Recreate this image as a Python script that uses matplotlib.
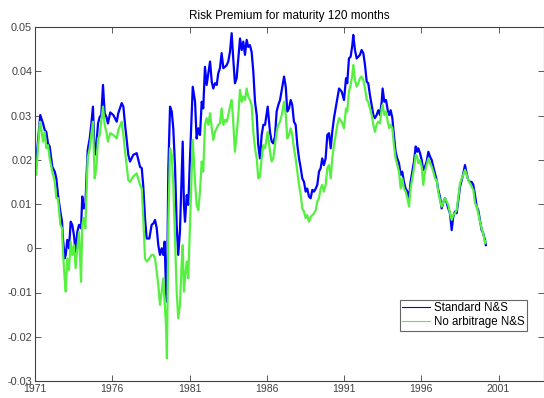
import matplotlib

matplotlib.use("Agg")

import matplotlib.pyplot as plt  # noqa: E402
from matplotlib.lines import Line2D  # noqa: E402

# sample dates (decimal years)
years = [
    1971.00, 1971.08, 1971.19, 1971.30, 1971.34, 1971.52, 1971.63, 1971.73, 1971.84, 1971.95,
    1972.12, 1972.28, 1972.38, 1972.49, 1972.64, 1972.75, 1972.81, 1972.92, 1972.99, 1973.09,
    1973.20, 1973.31, 1973.41, 1973.52, 1973.63, 1973.74, 1973.85, 1973.98, 1974.06, 1974.15,
    1974.26, 1974.32, 1974.41, 1974.54, 1974.64, 1974.75, 1974.86, 1974.97, 1975.08, 1975.19,
    1975.29, 1975.40, 1975.51, 1975.62, 1975.72, 1975.87, 1976.07, 1976.29, 1976.39, 1976.61,
    1976.72, 1976.83, 1977.04, 1977.15, 1977.36, 1977.58, 1977.80, 1977.91, 1978.01, 1978.12,
    1978.23, 1978.40, 1978.55, 1978.66, 1978.77, 1978.88, 1978.98, 1979.09, 1979.20, 1979.30,
    1979.39, 1979.48, 1979.54, 1979.63, 1979.74, 1979.85, 1979.95, 1980.06, 1980.17, 1980.27,
    1980.38, 1980.49, 1980.56, 1980.64, 1980.71, 1980.82, 1980.92, 1981.03, 1981.21, 1981.36,
    1981.46, 1981.57, 1981.68, 1981.79, 1981.89, 1982.00, 1982.11, 1982.22, 1982.33, 1982.44,
    1982.54, 1982.65, 1982.76, 1982.86, 1982.97, 1983.08, 1983.19, 1983.30, 1983.41, 1983.51,
    1983.62, 1983.73, 1983.83, 1983.94, 1984.05, 1984.16, 1984.27, 1984.38, 1984.48, 1984.59,
    1984.70, 1984.80, 1984.91, 1985.02, 1985.13, 1985.24, 1985.35, 1985.45, 1985.56, 1985.67,
    1985.78, 1985.89, 1986.06, 1986.21, 1986.32, 1986.42, 1986.53, 1986.64, 1986.75, 1986.86,
    1986.97, 1987.12, 1987.23, 1987.33, 1987.44, 1987.55, 1987.65, 1987.76, 1987.87, 1987.98,
    1988.09, 1988.20, 1988.30, 1988.41, 1988.52, 1988.62, 1988.73, 1988.84, 1988.95, 1989.06,
    1989.17, 1989.27, 1989.38, 1989.49, 1989.59, 1989.70, 1989.81, 1989.92, 1990.03, 1990.14,
    1990.24, 1990.35, 1990.46, 1990.57, 1990.68, 1990.85, 1991.00, 1991.13, 1991.21, 1991.32,
    1991.43, 1991.54, 1991.60, 1991.71, 1991.82, 1991.93, 1992.03, 1992.14, 1992.25, 1992.36,
    1992.47, 1992.57, 1992.68, 1992.79, 1992.90, 1993.00, 1993.11, 1993.22, 1993.33, 1993.44,
    1993.50, 1993.61, 1993.72, 1993.83, 1993.93, 1994.02, 1994.13, 1994.23, 1994.34, 1994.45,
    1994.56, 1994.67, 1994.77, 1994.88, 1994.99, 1995.10, 1995.21, 1995.31, 1995.42, 1995.53,
    1995.64, 1995.74, 1995.81, 1995.92, 1996.03, 1996.13, 1996.24, 1996.35, 1996.46, 1996.57,
    1996.68, 1996.78, 1996.89, 1997.00, 1997.10, 1997.21, 1997.32, 1997.43, 1997.54, 1997.65,
    1997.75, 1997.86, 1997.97, 1998.07, 1998.18, 1998.29, 1998.40, 1998.51, 1998.62, 1998.72,
    1998.83, 1998.94, 1999.04, 1999.15, 1999.26, 1999.37, 1999.48, 1999.59, 1999.69, 1999.80,
    1999.91, 2000.01, 2000.12, 2000.18,
]

standard_ns = [
    0.0203, 0.0196, 0.0241, 0.0286, 0.0301, 0.0282, 0.0267, 0.0263, 0.0237, 0.0230,
    0.0184, 0.0173, 0.0158, 0.0120, 0.0083, 0.0060, 0.0022, -0.0023, -0.0015, 0.0019,
    0.0000, 0.0060, 0.0053, 0.0030, -0.0008, 0.0037, 0.0053, 0.0045, 0.0117, 0.0090,
    0.0094, 0.0150, 0.0222, 0.0248, 0.0279, 0.0320, 0.0211, 0.0233, 0.0282, 0.0297,
    0.0301, 0.0369, 0.0305, 0.0297, 0.0282, 0.0307, 0.0301, 0.0286, 0.0305, 0.0328,
    0.0320, 0.0279, 0.0211, 0.0196, 0.0211, 0.0215, 0.0184, 0.0181, 0.0139, 0.0068,
    0.0022, 0.0022, 0.0053, 0.0056, 0.0064, 0.0045, 0.0007, -0.0015, 0.0000, -0.0015,
    0.0015, -0.0098, -0.0121, 0.0181, 0.0320, 0.0309, 0.0271, 0.0188, 0.0053, -0.0015,
    0.0037, 0.0158, 0.0241, 0.0098, 0.0060, 0.0120, 0.0098, 0.0203, 0.0365, 0.0331,
    0.0248, 0.0271, 0.0256, 0.0331, 0.0316, 0.0410, 0.0369, 0.0395, 0.0422, 0.0376,
    0.0361, 0.0373, 0.0369, 0.0395, 0.0407, 0.0441, 0.0407, 0.0410, 0.0414, 0.0422,
    0.0444, 0.0486, 0.0429, 0.0373, 0.0384, 0.0429, 0.0474, 0.0448, 0.0467, 0.0437,
    0.0471, 0.0455, 0.0459, 0.0444, 0.0399, 0.0331, 0.0301, 0.0233, 0.0203, 0.0256,
    0.0279, 0.0279, 0.0320, 0.0263, 0.0241, 0.0237, 0.0252, 0.0309, 0.0324, 0.0335,
    0.0358, 0.0388, 0.0365, 0.0309, 0.0316, 0.0335, 0.0324, 0.0286, 0.0279, 0.0233,
    0.0203, 0.0181, 0.0158, 0.0150, 0.0128, 0.0135, 0.0117, 0.0113, 0.0132, 0.0128,
    0.0135, 0.0143, 0.0173, 0.0181, 0.0203, 0.0188, 0.0203, 0.0256, 0.0260, 0.0226,
    0.0263, 0.0294, 0.0316, 0.0339, 0.0361, 0.0354, 0.0335, 0.0384, 0.0373, 0.0429,
    0.0433, 0.0459, 0.0482, 0.0448, 0.0429, 0.0433, 0.0437, 0.0448, 0.0441, 0.0414,
    0.0376, 0.0373, 0.0346, 0.0324, 0.0301, 0.0294, 0.0301, 0.0312, 0.0301, 0.0331,
    0.0361, 0.0331, 0.0335, 0.0312, 0.0301, 0.0312, 0.0294, 0.0256, 0.0218, 0.0203,
    0.0192, 0.0166, 0.0173, 0.0150, 0.0135, 0.0128, 0.0113, 0.0150, 0.0173, 0.0196,
    0.0230, 0.0218, 0.0226, 0.0215, 0.0199, 0.0177, 0.0184, 0.0196, 0.0218, 0.0207,
    0.0199, 0.0184, 0.0169, 0.0154, 0.0132, 0.0117, 0.0090, 0.0105, 0.0113, 0.0102,
    0.0090, 0.0079, 0.0041, 0.0071, 0.0083, 0.0079, 0.0109, 0.0139, 0.0154, 0.0169,
    0.0188, 0.0169, 0.0154, 0.0150, 0.0150, 0.0143, 0.0120, 0.0094, 0.0086, 0.0064,
    0.0041, 0.0034, 0.0019, 0.0007,
]

no_arbitrage_ns = [
    0.0188, 0.0166, 0.0226, 0.0279, 0.0286, 0.0241, 0.0263, 0.0226, 0.0233, 0.0203,
    0.0173, 0.0150, 0.0113, 0.0113, 0.0053, 0.0045, -0.0008, -0.0068, -0.0098, -0.0023,
    -0.0049, 0.0015, -0.0015, 0.0007, -0.0045, 0.0000, 0.0037, -0.0076, 0.0053, 0.0068,
    0.0045, 0.0113, 0.0203, 0.0226, 0.0256, 0.0286, 0.0158, 0.0181, 0.0248, 0.0256,
    0.0286, 0.0320, 0.0279, 0.0263, 0.0241, 0.0260, 0.0256, 0.0248, 0.0267, 0.0286,
    0.0256, 0.0218, 0.0154, 0.0150, 0.0162, 0.0169, 0.0143, 0.0135, 0.0068, -0.0023,
    -0.0030, -0.0023, -0.0015, -0.0015, -0.0023, -0.0053, -0.0083, -0.0128, -0.0098, -0.0068,
    -0.0121, -0.0174, -0.0249, 0.0053, 0.0226, 0.0211, 0.0143, 0.0022, -0.0098, -0.0158,
    -0.0128, -0.0038, 0.0007, -0.0098, -0.0068, -0.0030, -0.0068, 0.0053, 0.0245, 0.0150,
    0.0098, 0.0086, 0.0128, 0.0196, 0.0173, 0.0279, 0.0294, 0.0279, 0.0305, 0.0271,
    0.0245, 0.0263, 0.0271, 0.0279, 0.0282, 0.0316, 0.0279, 0.0290, 0.0286, 0.0301,
    0.0320, 0.0335, 0.0286, 0.0218, 0.0256, 0.0301, 0.0358, 0.0331, 0.0343, 0.0335,
    0.0361, 0.0343, 0.0335, 0.0324, 0.0263, 0.0226, 0.0203, 0.0158, 0.0162, 0.0203,
    0.0233, 0.0226, 0.0263, 0.0218, 0.0196, 0.0203, 0.0233, 0.0263, 0.0279, 0.0286,
    0.0301, 0.0331, 0.0301, 0.0248, 0.0256, 0.0271, 0.0256, 0.0226, 0.0203, 0.0173,
    0.0143, 0.0120, 0.0090, 0.0083, 0.0068, 0.0075, 0.0060, 0.0071, 0.0075, 0.0079,
    0.0086, 0.0105, 0.0113, 0.0135, 0.0143, 0.0128, 0.0143, 0.0181, 0.0188, 0.0158,
    0.0203, 0.0233, 0.0256, 0.0279, 0.0294, 0.0286, 0.0271, 0.0316, 0.0309, 0.0354,
    0.0369, 0.0392, 0.0414, 0.0380, 0.0365, 0.0373, 0.0384, 0.0388, 0.0380, 0.0361,
    0.0335, 0.0331, 0.0316, 0.0301, 0.0279, 0.0263, 0.0279, 0.0286, 0.0282, 0.0316,
    0.0324, 0.0301, 0.0309, 0.0286, 0.0271, 0.0279, 0.0271, 0.0233, 0.0203, 0.0188,
    0.0173, 0.0135, 0.0158, 0.0135, 0.0128, 0.0113, 0.0094, 0.0135, 0.0158, 0.0181,
    0.0211, 0.0207, 0.0192, 0.0199, 0.0184, 0.0143, 0.0173, 0.0188, 0.0203, 0.0192,
    0.0184, 0.0173, 0.0158, 0.0154, 0.0128, 0.0109, 0.0094, 0.0105, 0.0113, 0.0105,
    0.0098, 0.0079, 0.0064, 0.0075, 0.0079, 0.0086, 0.0117, 0.0147, 0.0158, 0.0166,
    0.0177, 0.0166, 0.0154, 0.0147, 0.0139, 0.0132, 0.0102, 0.0094, 0.0079, 0.0060,
    0.0045, 0.0034, 0.0011, 0.0015,
]

x_ticks = [1971, 1976, 1981, 1986, 1991, 1996, 2001]
y_ticks = [-0.03, -0.02, -0.01, 0, 0.01, 0.02, 0.03, 0.04, 0.05]
y_labels = ["-0.03", "-0.02", "-0.01", "0", "0.01", "0.02", "0.03", "0.04", "0.05"]

BLUE = "#0000ff"
GREEN = "#55f040"
AXIS_GREY = "#404040"

plt.rcParams["font.family"] = ["Liberation Sans", "DejaVu Sans"]

fig = plt.figure(figsize=(5.44, 3.98), dpi=100)
ax = fig.add_axes([35 / 544, 17 / 398, 508.5 / 544, 354 / 398])

ax.plot(years, standard_ns, color=BLUE, linewidth=1.6)
ax.plot(years, no_arbitrage_ns, color=GREEN, linewidth=1.6)

ax.set_xlim(1971, 1971 + 508.5 / 15.45)
ax.set_ylim(-0.03, 0.05)
ax.set_xticks(x_ticks)
ax.set_xticklabels([str(y) for y in x_ticks])
ax.set_yticks(y_ticks)
ax.set_yticklabels(y_labels)

ax.tick_params(direction="in", length=4, width=0.6, colors=AXIS_GREY,
               top=True, right=True, pad=2)
ax.tick_params(axis="x", labelsize=7.5)
ax.tick_params(axis="y", labelsize=7.8)
for spine in ax.spines.values():
    spine.set_color(AXIS_GREY)
    spine.set_linewidth(0.8)

ax.set_title("Risk Premium for maturity 120 months", fontsize=8.5, pad=6)

handles = [
    Line2D([], [], color=BLUE, linewidth=0.8),
    Line2D([], [], color=GREEN, linewidth=0.8),
]
leg = ax.legend(handles, ["Standard N&S", "No arbitrage N&S"],
                loc="lower left", bbox_to_anchor=(0.717, 0.142),
                borderaxespad=0, fontsize=8.3, frameon=True, fancybox=False,
                handlelength=2.4, handletextpad=0.3, borderpad=0.25,
                labelspacing=0.12)
leg.get_frame().set_edgecolor(AXIS_GREY)
leg.get_frame().set_linewidth(0.8)

fig.savefig("out.png", dpi=100)
